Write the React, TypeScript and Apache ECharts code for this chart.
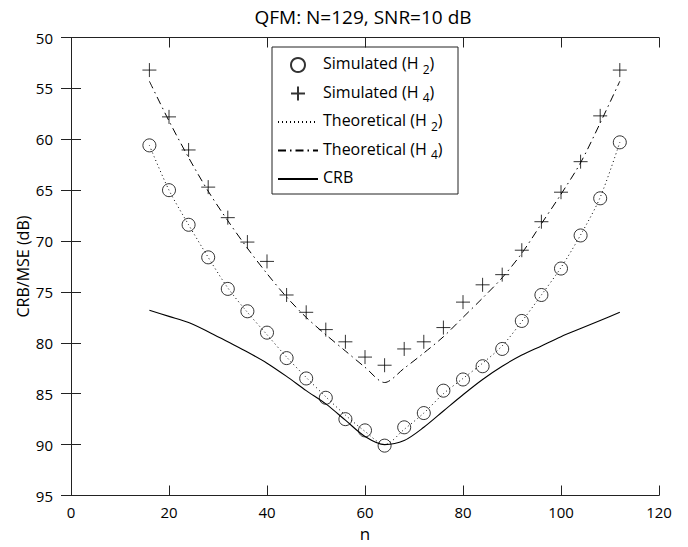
import React, { useEffect, useRef } from "react";
import * as echarts from "echarts";

const nValues = [16, 20, 24, 28, 32, 36, 40, 44, 48, 52, 56, 60, 64, 68, 72, 76, 80, 84, 88, 92, 96, 100, 104, 108, 112];
const simH2 = [60.6, 65.0, 68.4, 71.6, 74.7, 76.9, 79.0, 81.5, 83.5, 85.4, 87.5, 88.6, 90.1, 88.3, 86.9, 84.7, 83.6, 82.3, 80.6, 77.85, 75.3, 72.7, 69.45, 65.8, 60.3];
const simH4 = [53.2, 57.8, 61.05, 64.7, 67.7, 70.1, 72.0, 75.3, 77.0, 78.7, 79.9, 81.4, 82.2, 80.6, 79.9, 78.5, 76.0, 74.3, 73.3, 70.9, 68.1, 65.2, 62.2, 57.7, 53.2];
const theoH2 = [60.6, 65.0, 68.4, 71.6, 74.6, 77.0, 79.2, 81.4, 83.4, 85.3, 87.1, 88.7, 90.0, 88.5, 86.9, 85.0, 83.5, 82.0, 80.3, 77.9, 75.3, 72.6, 69.4, 65.7, 60.3];
const theoH4 = [54.3, 58.2, 61.8, 65.1, 68.0, 70.7, 73.2, 75.5, 77.5, 79.2, 80.8, 82.4, 83.9, 82.5, 81.0, 79.4, 77.5, 75.6, 73.6, 71.2, 68.3, 65.4, 62.3, 58.4, 54.3];
const crb = [76.8, 77.4, 78.0, 78.9, 79.9, 80.9, 82.0, 83.3, 84.7, 86.0, 87.6, 89.2, 90.0, 89.6, 88.3, 86.7, 85.1, 83.6, 82.3, 81.2, 80.3, 79.4, 78.6, 77.8, 77.0];

const seriesNames = ["Simulated (H2)", "Simulated (H4)", "Theoretical (H2)", "Theoretical (H4)", "CRB"];
const legendLabels: Record<string, string> = {
  "Simulated (H2)": "{m|Simulated (H }{s|2}{m|)}",
  "Simulated (H4)": "{m|Simulated (H }{s|4}{m|)}",
  "Theoretical (H2)": "{m|Theoretical (H }{s|2}{m|)}",
  "Theoretical (H4)": "{m|Theoretical (H }{s|4}{m|)}",
  CRB: "{m|CRB}",
};
const titleText = "QFM: N=129, SNR=10 dB";
const xName = "n";
const yName = "CRB/MSE (dB)";

const FONT = "Open Sans";
const AXIS_COLOR = "#222";

const pair = (ys: number[]) => nValues.map((n, i) => [n, ys[i]]);

export default function App() {
  const ref = useRef<HTMLDivElement>(null);
  useEffect(() => {
    if (!ref.current) return;
    const chart = echarts.init(ref.current, undefined, { renderer: "svg" });
    const axisCommon = {
      axisLine: { show: true, lineStyle: { color: AXIS_COLOR, width: 1 } },
      axisTick: { show: true, inside: true, length: 10, lineStyle: { color: AXIS_COLOR } },
      splitLine: { show: false },
    };
    const plusPath = "path://M7,0 L7,14 M0,7 L14,7";
    chart.setOption({
      animation: false,
      backgroundColor: "#fff",
      textStyle: { fontFamily: FONT },
      title: {
        text: titleText,
        left: 358,
        textAlign: "center",
        top: 2,
        textStyle: { fontFamily: FONT, fontSize: 19, fontWeight: "normal", color: "#000" },
      },
      grid: { left: 71, right: 29, top: 37.5, bottom: 49 },
      xAxis: [
        {
          type: "value",
          min: 0,
          max: 120,
          interval: 20,
          name: xName,
          nameLocation: "middle",
          nameGap: 31,
          nameMoveOverlap: false,
          nameTextStyle: { fontFamily: FONT, fontSize: 17, lineHeight: 14, color: "#000" },
          axisLabel: { fontFamily: FONT, fontSize: 15, lineHeight: 15, color: "#000", margin: 9 },
          ...axisCommon,
        },
        {
          type: "value",
          position: "top",
          min: 0,
          max: 120,
          interval: 20,
          axisLabel: { show: false },
          ...axisCommon,
        },
      ],
      yAxis: [
        {
          type: "value",
          inverse: true,
          min: 50,
          max: 95,
          interval: 5,
          name: yName,
          nameLocation: "middle",
          nameGap: 40,
          nameMoveOverlap: false,
          nameTextStyle: { fontFamily: FONT, fontSize: 16, color: "#000" },
          axisLabel: { fontFamily: FONT, fontSize: 15, color: "#000", margin: 18 },
          ...axisCommon,
        },
        {
          type: "value",
          position: "right",
          inverse: true,
          min: 50,
          max: 95,
          interval: 5,
          axisLabel: { show: false },
          ...axisCommon,
        },
      ],
      legend: {
        show: true,
        orient: "vertical",
        left: 277,
        top: 55,
        padding: 0,
        itemWidth: 40,
        itemHeight: 14,
        itemGap: 8.5,
        data: seriesNames,
        selectedMode: false,
        formatter: (name: string) => legendLabels[name] ?? name,
        textStyle: {
          fontFamily: FONT,
          fontSize: 16,
          color: "#000",
          rich: {
            m: { fontFamily: FONT, fontSize: 16, lineHeight: 16, padding: [0, 0, 4, 0], color: "#000" },
            s: { fontFamily: FONT, fontSize: 12, lineHeight: 12, padding: [8, 0, 0, 0], color: "#000" },
          },
        },
      },
      graphic: [
        {
          type: "rect",
          shape: { x: 272, y: 47, width: 186, height: 147 },
          style: { fill: "none", stroke: AXIS_COLOR, lineWidth: 1 },
          z: 10,
          silent: true,
        },
      ],
      series: [
        {
          name: seriesNames[0],
          type: "scatter",
          data: pair(simH2),
          symbol: "circle",
          symbolSize: 13,
          itemStyle: { color: "rgba(0,0,0,0)", borderColor: "#000", borderWidth: 1 },
          z: 5,
        },
        {
          name: seriesNames[1],
          type: "scatter",
          data: pair(simH4),
          symbol: plusPath,
          symbolSize: 14,
          symbolKeepAspect: true,
          itemStyle: { color: "rgba(0,0,0,0)", borderColor: "#000", borderWidth: 1 },
          z: 5,
        },
        {
          name: seriesNames[2],
          type: "line",
          data: pair(theoH2),
          symbol: "none",
          smooth: 0.3,
          itemStyle: { color: "#000", opacity: 0 },
          lineStyle: { color: "#000", width: 1, type: [1, 3], opacity: 1 },
        },
        {
          name: seriesNames[3],
          type: "line",
          data: pair(theoH4),
          symbol: "none",
          smooth: 0.3,
          itemStyle: { color: "#000", opacity: 0 },
          lineStyle: { color: "#000", width: 1, type: [8, 4, 1.5, 4], opacity: 1 },
        },
        {
          name: seriesNames[4],
          type: "line",
          data: pair(crb),
          symbol: "none",
          smooth: 0.3,
          itemStyle: { color: "#000", opacity: 0 },
          lineStyle: { color: "#000", width: 1.1, type: "solid", opacity: 1 },
        },
      ],
    });
    return () => chart.dispose();
  }, []);
  return (
    <div
      ref={ref}
      style={{ position: "fixed", left: 0, top: 0, width: 688, height: 547, background: "#fff" }}
    />
  );
}
